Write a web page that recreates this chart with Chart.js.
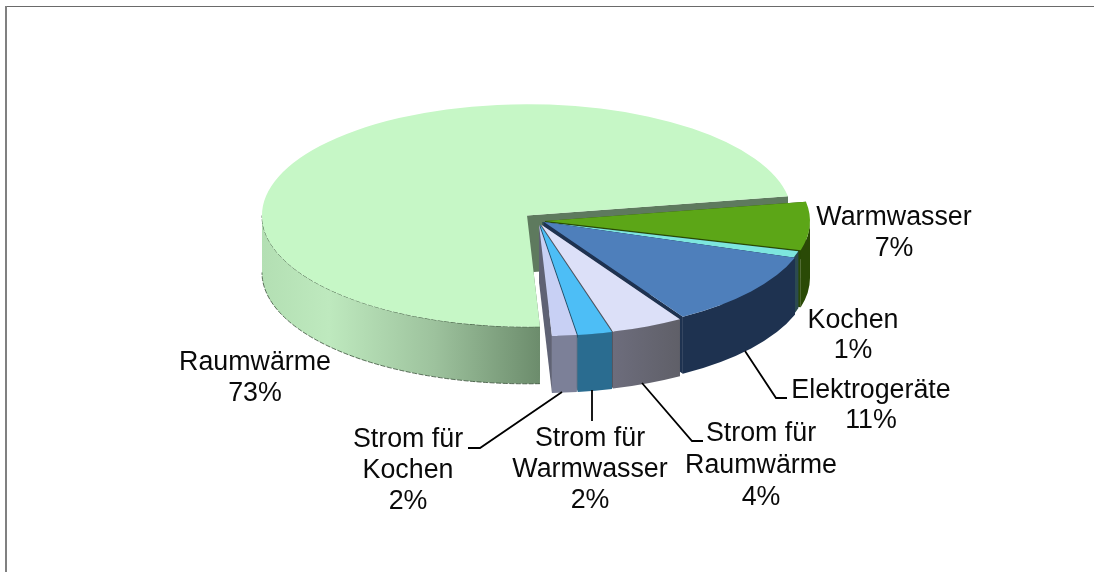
<!DOCTYPE html>
<html><head><meta charset="utf-8">
<style>html,body{margin:0;padding:0;background:#fff}canvas{display:block}</style>
<script src="https://cdn.jsdelivr.net/npm/chart.js@4"></script>
</head><body><canvas id="c" width="1094" height="572"></canvas>
<script>
const categories = ["Raumwärme","Warmwasser","Kochen","Elektrogeräte","Strom für\nRaumwärme","Strom für\nWarmwasser","Strom für\nKochen"];
const shares = [73,7,1,11,4.4,2.1,1.5];
const topColors = ["#C6F7C6","#5CA617","#7DE6DE","#4E7FBB","#DCE0F8","#4DBEF6","#C8D0F4"];
const wallColors = ["#6E8E6E","#2A4A06","#2C4A50","#1E3250","#6C6C7A","#2A6C90","#7C8098"];
const cutColors = ["#5E7A5E","#2A4A06","#2C4A50","#1E3250","#55555F","#1F4F6A","#5F6274"];
const explodeX = [-14,4,1.5,3,0,-1,-2];
const explodeY = [-8.5,-3,-2,-2,.5,.8,.8];
const labelX = [255,894,853,871,761,590,408];
const labelY = [363,218,321,391,434,439,440];
const labelGap = [31,31,30,30,32,31,31];
const leaders = [[[468,448],[480,448],[562,392]],[[592,390],[592,421]],[[642,383],[692,441],[703,441]],[[745,351],[776,398],[787,398]]];
const squash = 0.42, depth = 57, TAU = Math.PI*2;

const pie3d = {
  id:'pie3d',
  beforeDatasetDraw(chart,args){
    const ctx = chart.ctx, arcs = args.meta.data;
    arcs.forEach((a,i)=>{
      const p = a.getProps(['x','y','startAngle','endAngle','outerRadius'],true);
      const cx = p.x+explodeX[i], cy = p.y+explodeY[i], R = p.outerRadius, Ry = R*squash;
      const pt = t=>[cx+R*Math.cos(t), cy+Ry*Math.sin(t)];
      [p.startAngle,p.endAngle].forEach(t=>{
        const q = pt(t);
        ctx.fillStyle = cutColors[i];
        ctx.beginPath(); ctx.moveTo(cx,cy); ctx.lineTo(q[0],q[1]); ctx.lineTo(q[0],q[1]+depth); ctx.lineTo(cx,cy+depth); ctx.closePath(); ctx.fill();
      });
      let grad = wallColors[i];
      if(i===0){
        grad = ctx.createLinearGradient(cx-R,0,cx+R*0.05,0);
        grad.addColorStop(0,"#B3DFB3"); grad.addColorStop(.24,"#BEE9BE"); grad.addColorStop(.62,"#9DC29D"); grad.addColorStop(1,"#6C8C6C");
      } else if(i===4){
        grad = ctx.createLinearGradient(cx+R*.25,0,cx+R*.55,0);
        grad.addColorStop(0,"#6E6E7E"); grad.addColorStop(1,"#5E5E66");
      }
      for(let k=-1;k<=1;k++){
        const a0=Math.max(p.startAngle,k*TAU), a1=Math.min(p.endAngle,k*TAU+Math.PI);
        if(a1<=a0) continue;
        ctx.fillStyle = grad;
        ctx.beginPath();
        ctx.ellipse(cx,cy,R,Ry,0,a0,a1);
        ctx.ellipse(cx,cy+depth,R,Ry,0,a1,a0,true);
        ctx.closePath(); ctx.fill();
        if(i===0){
          ctx.save(); ctx.strokeStyle="rgba(45,70,45,.75)"; ctx.lineWidth=1; ctx.setLineDash([5,1.5]);
          ctx.beginPath(); ctx.ellipse(cx,cy+depth,R,Ry,0,a0,a1); ctx.stroke();
          ctx.beginPath(); ctx.ellipse(cx,cy,R,Ry,0,a0,a1); ctx.stroke();
          ctx.restore();
        }
      }
      ctx.save();
      ctx.translate(explodeX[i],explodeY[i]);
      ctx.translate(p.x,p.y); ctx.scale(1,squash); ctx.translate(-p.x,-p.y);
      a.draw(ctx);
      ctx.restore();
    });
    return false;
  },
  afterDraw(chart){
    const ctx = chart.ctx;
    ctx.save();
    ctx.strokeStyle="#6a6a6a"; ctx.lineWidth=1;
    ctx.beginPath(); ctx.moveTo(6,6.5); ctx.lineTo(1094,6.5); ctx.stroke();
    ctx.strokeStyle="#808080"; ctx.lineWidth=2;
    ctx.beginPath(); ctx.moveTo(6,6); ctx.lineTo(6,572); ctx.stroke();
    ctx.strokeStyle="#000"; ctx.lineWidth=1.8;
    leaders.forEach(l=>{ctx.beginPath(); l.forEach((q,j)=>j?ctx.lineTo(q[0],q[1]):ctx.moveTo(q[0],q[1])); ctx.stroke();});
    ctx.fillStyle="#0a0a0a"; ctx.font="26.8px 'Liberation Sans', Arial, sans-serif"; ctx.textAlign="center"; ctx.textBaseline="middle";
    categories.forEach((c,i)=>{
      const lines=c.split("\n").concat(Math.round(shares[i])+"%");
      lines.forEach((s,j)=>ctx.fillText(s,labelX[i],labelY[i]+j*labelGap[i]));
    });
    ctx.restore();
  }
};

new Chart(document.getElementById('c'),{
  type:'pie',
  data:{labels:categories,datasets:[{data:shares,backgroundColor:topColors,borderWidth:0}]},
  options:{
    responsive:false,animation:false,rotation:177.2,radius:265,
    layout:{padding:{right:12,bottom:124}},
    plugins:{legend:{display:false},tooltip:{enabled:false}}
  },
  plugins:[pie3d]
});
</script></body></html>
